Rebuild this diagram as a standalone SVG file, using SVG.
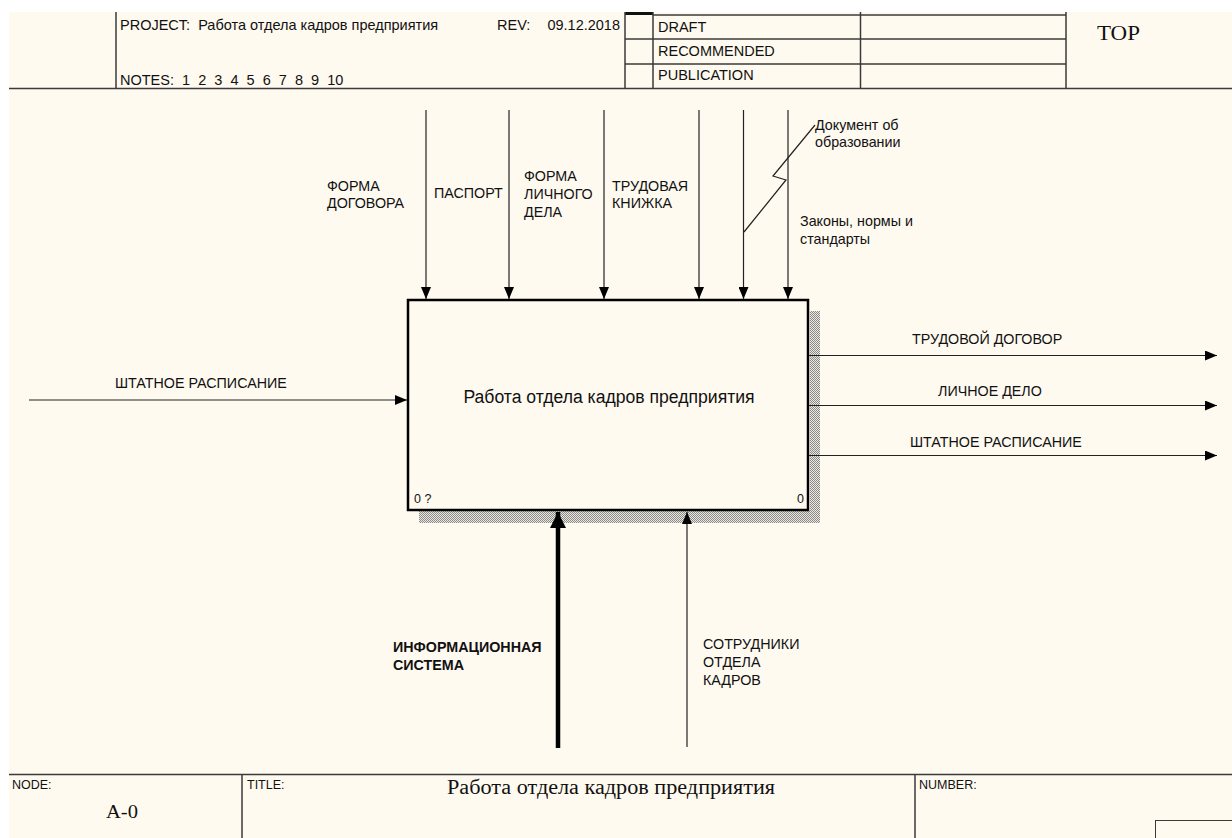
<svg xmlns="http://www.w3.org/2000/svg" width="1232" height="838" viewBox="0 0 1232 838">
<style>
  .t{font-family:"Liberation Sans",Arial,sans-serif;font-size:14.3px;fill:#111}
  .h{font-family:"Liberation Sans",Arial,sans-serif;font-size:14.5px;fill:#111}
  .f{font-family:"Liberation Sans",Arial,sans-serif;font-size:12.5px;fill:#111}
  .s{font-family:"Liberation Serif","Times New Roman",serif;fill:#111}
  .frame{stroke:#3a3a3a;stroke-width:1.5;fill:none}
  .arr{stroke:#222;stroke-width:1.2;fill:none}
</style>
<defs>
  <pattern id="hatch" width="2" height="2" patternUnits="userSpaceOnUse">
    <rect width="2" height="2" fill="#ece8df"/>
    <rect x="0" y="0" width="1" height="1" fill="#8a8a8a"/>
    <rect x="1" y="1" width="1" height="1" fill="#8a8a8a"/>
  </pattern>
  <marker id="ah" viewBox="0 0 12 10" refX="12" refY="5" markerWidth="12" markerHeight="10" markerUnits="userSpaceOnUse" orient="auto">
    <path d="M0,0 L12,5 L0,10 Z" fill="#000"/>
  </marker>
  <marker id="ahBig" viewBox="0 0 16 16" refX="16" refY="8" markerWidth="16" markerHeight="16" markerUnits="userSpaceOnUse" orient="auto">
    <path d="M0,0 L16,8 L0,16 Z" fill="#000"/>
  </marker>
</defs>
<rect width="1232" height="838" fill="#ffffff"/>
<rect x="9" y="12" width="1223" height="826" fill="#fffaf0"/>

<g id="header">
  <line class="frame" x1="116" y1="12" x2="116" y2="88"/>
  <line class="frame" x1="9" y1="88.5" x2="1232" y2="88.5"/>
  <line x1="625" y1="13.5" x2="653" y2="13.5" stroke="#111" stroke-width="3"/>
  <line class="frame" x1="653" y1="15" x2="1066" y2="15"/>
  <line class="frame" x1="625" y1="39" x2="1066" y2="39"/>
  <line class="frame" x1="625" y1="64" x2="1066" y2="64"/>
  <line class="frame" x1="625" y1="12" x2="625" y2="88"/>
  <line class="frame" x1="653" y1="12" x2="653" y2="88"/>
  <line class="frame" x1="860.5" y1="12" x2="860.5" y2="88"/>
  <line class="frame" x1="1066" y1="12" x2="1066" y2="88"/>
  <text class="h" x="120" y="30" xml:space="preserve">PROJECT:  Работа отдела кадров предприятия</text>
  <text class="h" x="497" y="30">REV:</text>
  <text class="h" x="620" y="30" text-anchor="end">09.12.2018</text>
  <text class="h" x="120" y="85" xml:space="preserve">NOTES:  1  2  3  4  5  6  7  8  9  10</text>
  <text class="h" x="658" y="32">DRAFT</text>
  <text class="h" x="658" y="56">RECOMMENDED</text>
  <text class="h" x="658" y="80">PUBLICATION</text>
  <text class="s" x="1097" y="40" style="font-size:21px" textLength="43" lengthAdjust="spacingAndGlyphs">TOP</text>
</g>

<g id="footer">
  <line class="frame" x1="9" y1="774.5" x2="1232" y2="774.5"/>
  <line class="frame" x1="242" y1="774" x2="242" y2="838"/>
  <line class="frame" x1="915" y1="774" x2="915" y2="838"/>
  <rect x="1155.5" y="820.5" width="80" height="20" fill="none" stroke="#3a3a3a" stroke-width="1"/>
  <text class="f" x="12" y="789">NODE:</text>
  <text class="f" x="247" y="789">TITLE:</text>
  <text class="f" x="919" y="789">NUMBER:</text>
  <text class="s" x="106" y="818" style="font-size:18px" textLength="32" lengthAdjust="spacingAndGlyphs">A-0</text>
  <text class="s" x="447" y="794" style="font-size:20px" textLength="328" lengthAdjust="spacingAndGlyphs">Работа отдела кадров предприятия</text>
</g>

<g id="node-A0">
  <rect x="810" y="311" width="10" height="212" fill="url(#hatch)"/>
  <rect x="419" y="511" width="401" height="12" fill="url(#hatch)"/>
  <rect x="408" y="300" width="400" height="210" fill="#fffaf0" stroke="#000" stroke-width="2.5"/>
  <text class="t" x="609" y="403" text-anchor="middle" style="font-size:17.6px">Работа отдела кадров предприятия</text>
  <text class="f" x="414" y="503">0 ?</text>
  <text class="f" x="804" y="503" text-anchor="end">0</text>
</g>

<g id="connectors">
  <line class="arr" x1="426" y1="110" x2="426" y2="299" marker-end="url(#ah)"/>
  <line class="arr" x1="509" y1="110" x2="509" y2="299" marker-end="url(#ah)"/>
  <line class="arr" x1="604" y1="110" x2="604" y2="299" marker-end="url(#ah)"/>
  <line class="arr" x1="699" y1="110" x2="699" y2="299" marker-end="url(#ah)"/>
  <line class="arr" x1="743.5" y1="110" x2="743.5" y2="299" marker-end="url(#ah)"/>
  <line class="arr" x1="788" y1="110" x2="788" y2="299" marker-end="url(#ah)"/>
  <polyline class="arr" stroke-width="1" points="815,125 773,176 786,180 744,232"/>
  <line class="arr" x1="29" y1="400" x2="407" y2="400" marker-end="url(#ah)"/>
  <line class="arr" x1="809" y1="355.5" x2="1217" y2="355.5" marker-end="url(#ah)"/>
  <line class="arr" x1="809" y1="405.5" x2="1217" y2="405.5" marker-end="url(#ah)"/>
  <line class="arr" x1="809" y1="455.5" x2="1217" y2="455.5" marker-end="url(#ah)"/>
  <line x1="558" y1="748" x2="558" y2="512" stroke="#000" stroke-width="4.5" marker-end="url(#ahBig)"/>
  <line class="arr" x1="687" y1="747" x2="687" y2="512" marker-end="url(#ah)"/>

  <text class="t" x="327" y="191">ФОРМА</text>
  <text class="t" x="327" y="208">ДОГОВОРА</text>
  <text class="t" x="434" y="198">ПАСПОРТ</text>
  <text class="t" x="524" y="181">ФОРМА</text>
  <text class="t" x="524" y="199">ЛИЧНОГО</text>
  <text class="t" x="524" y="217">ДЕЛА</text>
  <text class="t" x="612" y="191">ТРУДОВАЯ</text>
  <text class="t" x="612" y="208">КНИЖКА</text>
  <text class="t" x="815" y="130">Документ об</text>
  <text class="t" x="815" y="147">образовании</text>
  <text class="t" x="800" y="226">Законы, нормы и</text>
  <text class="t" x="800" y="244">стандарты</text>
  <text class="t" x="115" y="388">ШТАТНОЕ РАСПИСАНИЕ</text>
  <text class="t" x="912" y="344">ТРУДОВОЙ ДОГОВОР</text>
  <text class="t" x="938" y="396">ЛИЧНОЕ ДЕЛО</text>
  <text class="t" x="910" y="447">ШТАТНОЕ РАСПИСАНИЕ</text>
  <text class="t" x="393" y="652" font-weight="bold">ИНФОРМАЦИОННАЯ</text>
  <text class="t" x="393" y="670" font-weight="bold">СИСТЕМА</text>
  <text class="t" x="703" y="649">СОТРУДНИКИ</text>
  <text class="t" x="703" y="667">ОТДЕЛА</text>
  <text class="t" x="703" y="685">КАДРОВ</text>
</g>
</svg>
